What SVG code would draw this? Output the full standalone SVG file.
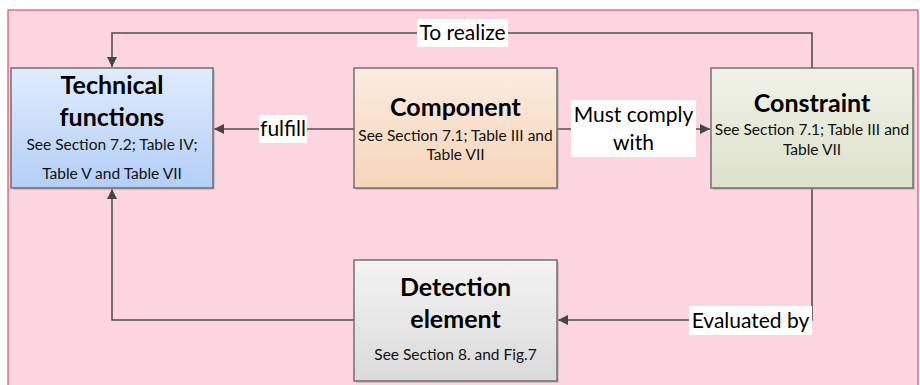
<svg xmlns="http://www.w3.org/2000/svg" width="920" height="385" viewBox="0 0 920 385">
<style>
.box{stroke:#5f5f5f;stroke-width:1.3}
.shadow{fill:#a0a0a0;opacity:0.45}
.title{font-family:Lato,"Liberation Sans",sans-serif;font-weight:bold;font-size:25px;fill:#000;text-anchor:middle}
.sub{font-family:Lato,"Liberation Sans",sans-serif;font-size:15.5px;fill:#111;text-anchor:middle}
.lbl{font-family:Lato,"Liberation Sans",sans-serif;font-size:21px;fill:#000;text-anchor:middle}
.conn{fill:none;stroke:#505050;stroke-width:1.6}
.lblbg{fill:#fff}
</style>
<defs>
<marker id="arr" viewBox="0 0 10 10" refX="10" refY="5" markerWidth="10" markerHeight="10" markerUnits="userSpaceOnUse" orient="auto">
<path d="M0,0 L10,5 L0,10 z" fill="#454545"/>
</marker>
<linearGradient id="gBlue" x1="0" y1="0" x2="0" y2="1"><stop offset="0" stop-color="#e0ecfc"/><stop offset="1" stop-color="#b3cef6"/></linearGradient>
<linearGradient id="gPeach" x1="0" y1="0" x2="0" y2="1"><stop offset="0" stop-color="#fbebdf"/><stop offset="1" stop-color="#f6d5b9"/></linearGradient>
<linearGradient id="gGreen" x1="0" y1="0" x2="0" y2="1"><stop offset="0" stop-color="#f0f2e8"/><stop offset="1" stop-color="#dce1ca"/></linearGradient>
<linearGradient id="gGray" x1="0" y1="0" x2="0" y2="1"><stop offset="0" stop-color="#f3f3f3"/><stop offset="1" stop-color="#dadada"/></linearGradient>
</defs>
<rect x="0" y="0" width="920" height="385" fill="#ffffff"/>
<rect x="8" y="10" width="910" height="380" fill="#fcd5de" stroke="#cc3550" stroke-width="1"/>

<g id="connectors">
<path class="conn" d="M812,68 V33 H112 V67" marker-end="url(#arr)"/>
<rect class="lblbg" x="417" y="19" width="91" height="28"/>
<text class="lbl" x="462.5" y="40">To realize</text>

<path class="conn" d="M354,129 H214" marker-end="url(#arr)"/>
<rect class="lblbg" x="259" y="115" width="48" height="28"/>
<text class="lbl" x="283" y="136">fulfill</text>

<path class="conn" d="M557,129 H710" marker-end="url(#arr)"/>
<rect class="lblbg" x="571" y="100" width="125" height="57"/>
<text class="lbl" x="633.5" y="122">Must comply</text>
<text class="lbl" x="633.5" y="150">with</text>

<path class="conn" d="M812,188 V320 H558" marker-end="url(#arr)"/>
<rect class="lblbg" x="689" y="306" width="123" height="29"/>
<text class="lbl" x="750.5" y="328">Evaluated by</text>

<path class="conn" d="M354,320 H112 V189" marker-end="url(#arr)"/>
</g>

<g id="technical">
<rect class="shadow" x="13" y="70" width="202" height="120"/>
<rect class="box" x="11" y="68" width="202" height="120" fill="url(#gBlue)"/>
<text class="title" x="112" y="94">Technical</text>
<text class="title" x="112" y="126">functions</text>
<text class="sub" x="112" y="150">See Section 7.2; Table IV;</text>
<text class="sub" x="112" y="179">Table V and Table VII</text>
</g>

<g id="component">
<rect class="shadow" x="356" y="70" width="203" height="120"/>
<rect class="box" x="354" y="68" width="203" height="120" fill="url(#gPeach)"/>
<text class="title" x="455.5" y="116">Component</text>
<text class="sub" x="455.5" y="141">See Section 7.1; Table III and</text>
<text class="sub" x="455.5" y="160">Table VII</text>
</g>

<g id="constraint">
<rect class="shadow" x="713" y="70" width="202" height="120"/>
<rect class="box" x="711" y="68" width="202" height="120" fill="url(#gGreen)"/>
<text class="title" x="812" y="112">Constraint</text>
<text class="sub" x="812" y="135">See Section 7.1; Table III and</text>
<text class="sub" x="812" y="155">Table VII</text>
</g>

<g id="detection">
<rect class="shadow" x="356" y="262" width="203" height="121"/>
<rect class="box" x="354" y="260" width="203" height="121" fill="url(#gGray)"/>
<text class="title" x="455.5" y="296">Detection</text>
<text class="title" x="455.5" y="328">element</text>
<text class="sub" x="455.5" y="360">See Section 8. and Fig.7</text>
</g>
</svg>
